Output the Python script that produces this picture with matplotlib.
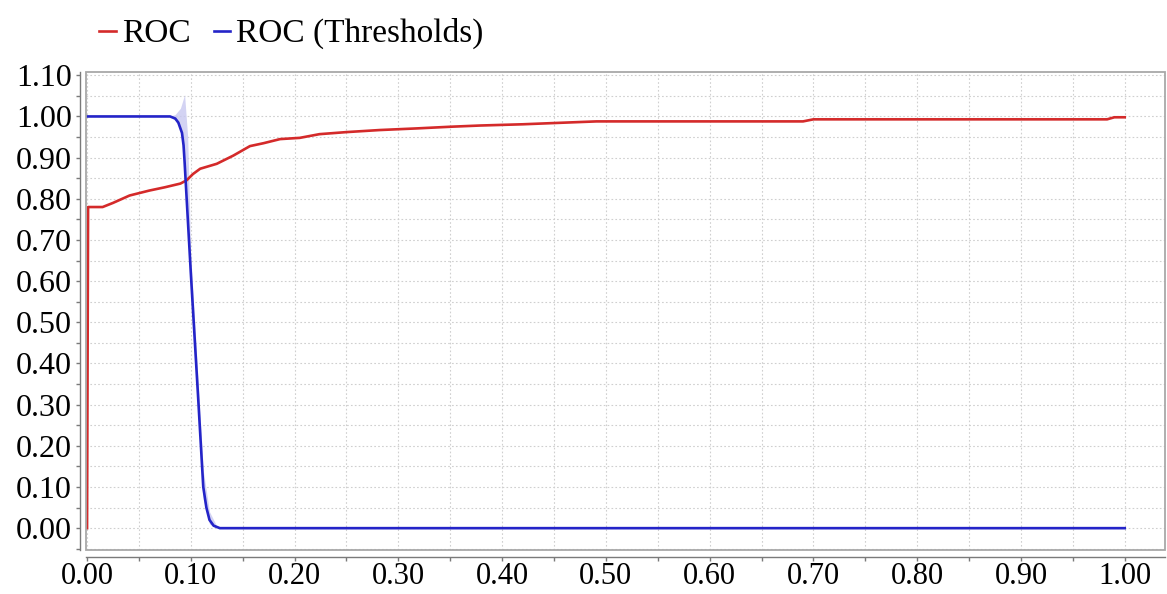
import numpy as np
import matplotlib
matplotlib.use("Agg")
import matplotlib.pyplot as plt
from matplotlib.patches import Rectangle
from matplotlib.ticker import MultipleLocator, FormatStrFormatter

plt.rcParams['font.family'] = ['Liberation Serif', 'DejaVu Serif']

# ROC curve
roc_x = [0, 0.001, 0.015, 0.025, 0.041, 0.06, 0.075, 0.09, 0.096, 0.102, 0.109,
         0.125, 0.141, 0.157, 0.17, 0.186, 0.205, 0.224, 0.25, 0.282, 0.318,
         0.35, 0.379, 0.42, 0.45, 0.491, 0.69, 0.70, 0.983, 0.99, 1.0]
roc_y = [0, 0.78, 0.78, 0.79, 0.808, 0.82, 0.828, 0.837, 0.845, 0.86, 0.873,
         0.885, 0.905, 0.928, 0.935, 0.945, 0.948, 0.957, 0.962, 0.967, 0.971,
         0.975, 0.978, 0.981, 0.984, 0.988, 0.988, 0.993, 0.993, 0.998, 0.998]

# ROC (Thresholds)
thr_x = [0, 0.08, 0.085, 0.088, 0.0915, 0.093, 0.094, 0.100, 0.107, 0.112,
         0.115, 0.118, 0.122, 0.128, 1.0]
thr_y = [1, 1, 0.995, 0.985, 0.96, 0.93, 0.89, 0.62, 0.32, 0.10,
         0.05, 0.02, 0.006, 0, 0]

# shaded band around thresholds curve
band_x = [0.08, 0.085, 0.09, 0.094, 0.097, 0.100, 0.107, 0.112, 0.118, 0.125]
band_hi = [1.0, 1.005, 1.02, 1.053, 0.95, 0.66, 0.36, 0.14, 0.04, 0.005]
band_lo = [1.0, 0.99, 0.97, 0.90, 0.78, 0.58, 0.28, 0.07, 0.01, 0.0]

fig = plt.figure(figsize=(11.67, 5.94), dpi=100)
ax = fig.add_axes([0.0737, 0.0741, 0.9243, 0.8047])

red = '#d42a2a'
blue = '#2424c8'

ax.fill_between(band_x, band_lo, band_hi, color='#c8c8f0', alpha=0.8, lw=0, zorder=2)
ax.plot(roc_x, roc_y, color=red, lw=1.9, label='ROC', zorder=3)
ax.plot(thr_x, thr_y, color=blue, lw=1.9, label='ROC (Thresholds)', zorder=4)

ax.set_xlim(-0.001, 1.0385)
ax.set_ylim(-0.053, 1.108)

ax.xaxis.set_major_locator(MultipleLocator(0.1))
ax.xaxis.set_minor_locator(MultipleLocator(0.05))
ax.yaxis.set_major_locator(MultipleLocator(0.1))
ax.yaxis.set_minor_locator(MultipleLocator(0.05))
ax.xaxis.set_major_formatter(FormatStrFormatter('%.2f'))
ax.yaxis.set_major_formatter(FormatStrFormatter('%.2f'))

ax.grid(True, which='both', color='#cfcfcf', linestyle=(0, (1.5, 2)), lw=0.8)
ax.set_axisbelow(True)

for s in ['top', 'right']:
    ax.spines[s].set_visible(False)
ax.spines['left'].set_position(('outward', 4.3))
ax.spines['bottom'].set_position(('outward', 5))
for s in ['left', 'bottom']:
    ax.spines[s].set_color('#7a7a7a')
    ax.spines[s].set_linewidth(1.0)

ax.tick_params(which='both', length=3, width=1, color='#7a7a7a', labelsize=23)
ax.tick_params(axis='y', pad=3)
ax.tick_params(axis='x', pad=1, labelsize=22)

ax.add_patch(Rectangle((0, 0), 1, 1, transform=ax.transAxes, fill=False,
                       edgecolor='#a8a8a8', lw=1.3, clip_on=False, zorder=5))

fig.legend(loc='center left', bbox_to_anchor=(0.085, 0.943), ncol=2, frameon=False,
           fontsize=24, handlelength=0.5, handletextpad=0.18, columnspacing=0.7,
           borderpad=0, borderaxespad=0)

fig.savefig('out.png', dpi=100)
